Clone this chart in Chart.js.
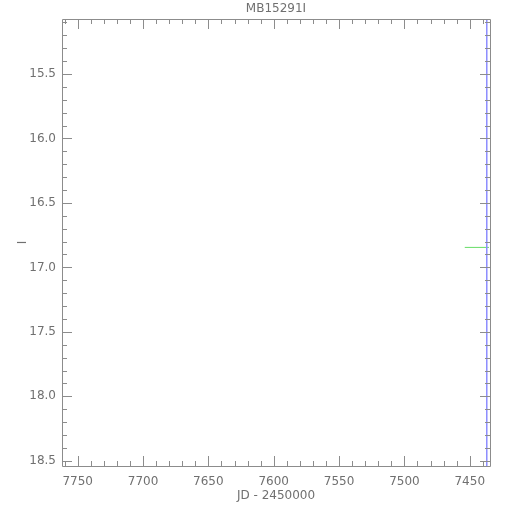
<!DOCTYPE html>
<html><head><meta charset="utf-8">
<script src="https://cdn.jsdelivr.net/npm/chart.js@4/dist/chart.umd.min.js"></script>
<style>html,body{margin:0;padding:0;background:#fff}#c{display:block}</style>
</head><body>
<canvas id="c" width="510" height="510"></canvas>
<script>
const chartTitle = "MB15291I";
const xTitle = "JD - 2450000";
const yTitle = "I";
const xRange = [7434.5, 7762];
const yRange = [15.074, 18.54];
const xMajorTicks = [7750, 7700, 7650, 7600, 7550, 7500, 7450];
const yMajorTicks = [15.5, 16.0, 16.5, 17.0, 17.5, 18.0, 18.5];
const xMinorStep = 10;
const yMinorStep = 0.1;
// blue vertical marker
const markerX = [7437, 7437];
const markerY = [15.074, 18.54];
// green horizontal segment
const segX = [7453.8, 7435.3];
const segY = [16.845, 16.845];

const axisColor = '#8c8c8c';
const textColor = '#707070';
const font = {family: 'DejaVu Sans', size: 12, weight: 'normal'};

const ticksPlugin = {
  id: 'idlTicks',
  afterDatasetsDraw(chart) {
    const ctx = chart.ctx, a = chart.chartArea;
    const xs = chart.scales.x, ys = chart.scales.y;
    ctx.save();
    ctx.strokeStyle = axisColor;
    ctx.lineWidth = 1;
    ctx.beginPath();
    ctx.rect(Math.round(a.left)+0.5, Math.round(a.top)+0.5, Math.round(a.right-a.left), Math.round(a.bottom-a.top));
    ctx.stroke();
    const line = (x1,y1,x2,y2)=>{ctx.beginPath();ctx.moveTo(x1,y1);ctx.lineTo(x2,y2);ctx.stroke();};
    const xs0 = Math.ceil(Math.min(...xRange)/xMinorStep)*xMinorStep;
    for (let v = xs0; v <= Math.max(...xRange); v += xMinorStep) {
      const major = xMajorTicks.includes(v);
      const len = major ? 10 : 5;
      const px = Math.round(xs.getPixelForValue(v)) + 0.5;
      line(px, a.bottom, px, a.bottom - len);
      line(px, a.top, px, a.top + len);
    }
    const ys0 = Math.ceil(Math.min(...yRange)/yMinorStep - 1e-6);
    for (let i = ys0; i*yMinorStep <= Math.max(...yRange)+1e-9; i++) {
      const v = +(i*yMinorStep).toFixed(1);
      const major = yMajorTicks.includes(v);
      const len = major ? 10 : 5;
      const py = Math.round(ys.getPixelForValue(v)) + 0.5;
      line(a.left, py, a.left + len, py);
      line(a.right, py, a.right - len, py);
    }
    ctx.fillStyle = textColor;
    ctx.font = `normal ${font.size}px ${font.family}`;
    ctx.textAlign = 'center';
    ctx.textBaseline = 'middle';
    ctx.fillText(chartTitle, (a.left + a.right) / 2, 9);
    ctx.restore();
  }
};

new Chart(document.getElementById('c'), {
  type: 'line',
  data: {
    datasets: [
      {data: markerX.map((x,i)=>({x, y: markerY[i]})), borderColor: '#8f8fff', borderWidth: 1, pointRadius: 0},
      {data: segX.map((x,i)=>({x, y: segY[i]})), borderColor: '#66dd66', borderWidth: 1, pointRadius: 0}
    ]
  },
  options: {
    responsive: false,
    animation: false,
    layout: {padding: {left: 0, right: 20, top: 19, bottom: 0}},
    plugins: {
      legend: {display: false},
      tooltip: {enabled: false},
      title: {display: false}
    },
    scales: {
      x: {
        type: 'linear', reverse: true, min: xRange[0], max: xRange[1],
        afterBuildTicks: s => { s.ticks = xMajorTicks.map(v => ({value: v})); },
        afterFit: s => { s.height = 44; },
        grid: {display: false, drawTicks: false},
        border: {display: false},
        ticks: {color: textColor, font: font, padding: 9, maxRotation: 0, callback: v => String(v)},
        title: {display: true, text: xTitle, color: textColor, font: font, padding: {top: 0, bottom: 7}}
      },
      y: {
        type: 'linear', reverse: true, min: yRange[0], max: yRange[1],
        afterBuildTicks: s => { s.ticks = yMajorTicks.map(v => ({value: v})); },
        afterFit: s => { s.width = 62; },
        grid: {display: false, drawTicks: false},
        border: {display: false},
        ticks: {color: textColor, font: font, padding: 6, callback: v => Number(v).toFixed(1)},
        title: {display: true, text: yTitle, color: textColor, font: font, padding: {top: 16, bottom: 0}}
      }
    }
  },
  plugins: [ticksPlugin]
});
</script>
</body></html>
